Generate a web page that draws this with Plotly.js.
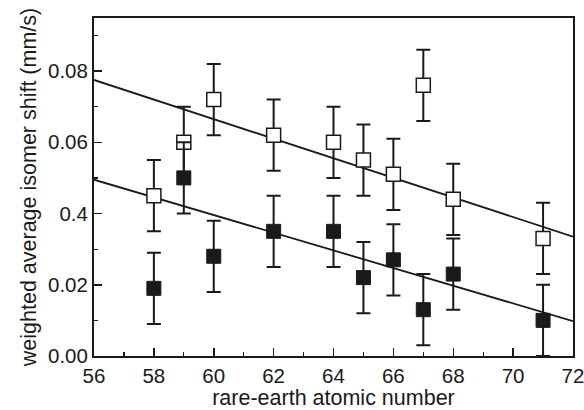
<!DOCTYPE html>
<html><head><meta charset="utf-8">
<script src="https://cdn.plot.ly/plotly-3.0.1.min.js"></script>
<style>html,body{margin:0;padding:0;background:#fff}#chart{width:584px;height:410px}</style>
</head><body><div id="chart"></div>
<script>
const atomicNumber = [58, 59, 60, 62, 64, 65, 66, 67, 68, 71];
const openShift   = [0.045, 0.060, 0.072, 0.062, 0.060, 0.055, 0.051, 0.076, 0.044, 0.033];
const filledShift = [0.019, 0.050, 0.028, 0.035, 0.035, 0.022, 0.027, 0.013, 0.023, 0.010];
const openErr   = [0.010, 0.010, 0.010, 0.010, 0.010, 0.010, 0.010, 0.010, 0.010, 0.010];
const filledErr = [0.010, 0.010, 0.010, 0.010, 0.010, 0.010, 0.010, 0.010, 0.010, 0.010];
const fitX = [56, 72];
const openFit = [0.0775, 0.0335];
const filledFit = [0.0495, 0.0098];
const yTickVals = [0, 0.02, 0.04, 0.06, 0.08];
const yTickText = ['0.00', '0.02', '0.4', '0.06', '0.08'];
const xTickVals = [56, 58, 60, 62, 64, 66, 68, 70, 72];

const ink = '#1a1a1a';
const traces = [
  {x: fitX, y: openFit, mode: 'lines', line: {color: ink, width: 1.8}, hoverinfo: 'skip'},
  {x: fitX, y: filledFit, mode: 'lines', line: {color: ink, width: 1.8}, hoverinfo: 'skip'},
  {x: atomicNumber, y: openShift, mode: 'markers', type: 'scatter',
   error_y: {type: 'data', array: openErr, visible: true, color: ink, thickness: 2, width: 7},
   marker: {symbol: 'square', size: 14, color: '#fff', line: {color: ink, width: 1.5}}},
  {x: atomicNumber, y: filledShift, mode: 'markers', type: 'scatter',
   error_y: {type: 'data', array: filledErr, visible: true, color: ink, thickness: 2, width: 7},
   marker: {symbol: 'square', size: 14, color: ink, line: {color: ink, width: 1}}}
];
const tickFont = {family: 'Liberation Sans, Arial, sans-serif', size: 20.5, color: ink};
const titleFont = {family: 'Liberation Sans, Arial, sans-serif', size: 21.5, color: ink};
const layout = {
  width: 584, height: 410,
  margin: {l: 94, r: 11, t: 18, b: 54},
  showlegend: false,
  paper_bgcolor: '#fff', plot_bgcolor: '#fff',
  font: tickFont,
  xaxis: {
    range: [56, 72], tickvals: xTickVals, ticks: 'inside', ticklen: 8, tickwidth: 1.5, tickcolor: ink,
    ticklabeloverflow: 'allow',
    showline: true, linecolor: ink, linewidth: 2, mirror: true, showgrid: false, zeroline: false,
    minor: {dtick: 1, ticks: 'inside', ticklen: 4, tickwidth: 1.2, tickcolor: ink, showgrid: false},
    title: {text: 'rare-earth atomic number', font: titleFont, standoff: 3},
    tickfont: tickFont
  },
  yaxis: {
    range: [0, 0.0949], tickvals: yTickVals, ticktext: yTickText, ticks: 'inside', ticklen: 8, tickwidth: 1.5, tickcolor: ink,
    ticklabeloverflow: 'allow',
    showline: true, linecolor: ink, linewidth: 2, mirror: true, showgrid: false, zeroline: false,
    minor: {dtick: 0.01, ticks: 'inside', ticklen: 4, tickwidth: 1.2, tickcolor: ink, showgrid: false},
    title: {text: 'weighted average isomer shift (mm/s)', font: titleFont, standoff: 5},
    tickfont: tickFont
  }
};
Plotly.newPlot('chart', traces, layout, {displayModeBar: false, staticPlot: true});
</script></body></html>
